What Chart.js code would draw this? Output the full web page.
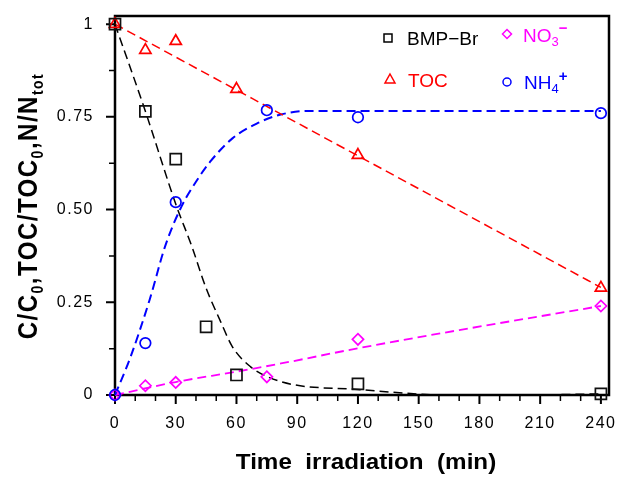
<!DOCTYPE html>
<html>
<head>
<meta charset="utf-8">
<title>BMP-Br photodegradation</title>
<script src="https://cdn.jsdelivr.net/npm/chart.js@4.4.1/dist/chart.umd.min.js"></script>
<style>
  html, body { margin: 0; padding: 0; background: #fff; }
  #box { width: 632px; height: 478px; position: relative; }
</style>
</head>
<body>
<div id="box"><canvas id="chart"></canvas></div>
<script>
const bmpTimes = [0, 15, 30, 45, 60, 120, 240];
const bmpValues = [1.0, 0.765, 0.636, 0.184, 0.054, 0.030, 0.003];
const tocTimes = [0, 15, 30, 60, 120, 240];
const tocValues = [1.0, 0.93, 0.954, 0.825, 0.647, 0.289];
const nh4Times = [0, 15, 30, 75, 120, 240];
const nh4Values = [0, 0.14, 0.52, 0.768, 0.749, 0.76];
const no3Times = [0, 15, 30, 75, 120, 240];
const no3Values = [0, 0.025, 0.034, 0.049, 0.15, 0.24];

// fitted curves
const bmpFitTimes = [0, 15, 30, 38, 45, 52, 58, 67, 75, 88, 120, 146, 160, 200, 240];
const bmpFitValues = [1.0, 0.765, 0.515, 0.40, 0.288, 0.20, 0.13, 0.076, 0.05, 0.028, 0.015, 0.004, 0.0, 0.0, 0.003];
const tocFitTimes = [0, 240];
const tocFitValues = [1.0, 0.29];
const nh4FitTimes = [0, 7.5, 17, 25, 33, 40, 47, 58, 70, 81, 95, 120, 180, 240];
const nh4FitValues = [0, 0.10, 0.255, 0.405, 0.51, 0.575, 0.629, 0.692, 0.732, 0.755, 0.766, 0.766, 0.766, 0.766];
const no3FitTimes = [0, 30, 60, 82, 120, 170, 240];
const no3FitValues = [0, 0.035, 0.063, 0.085, 0.126, 0.175, 0.24];

// axes
const xTicks = [0, 30, 60, 90, 120, 150, 180, 210, 240];
const xMinorTicks = [10, 20, 40, 50, 70, 80, 100, 110, 130, 140, 160, 170, 190, 200, 220, 230];
const yTicks = [0, 0.25, 0.5, 0.75, 1];
const yTickLabels = ["0", "0.25", "0.50", "0.75", "1"];
const yMinorTicks = [0.125, 0.375, 0.625, 0.875];

const FONT = '"Liberation Sans", Arial, sans-serif';

const pts = (xs, ys) => xs.map((x, i) => ({ x: x, y: ys[i] }));

function markers(data, style, color, radius) {
  return {
    data: data,
    pointStyle: style,
    pointRadius: radius,
    pointHoverRadius: radius,
    pointBorderColor: color,
    pointBackgroundColor: "rgba(0,0,0,0)",
    pointBorderWidth: 1.7,
    showLine: false,
    clip: false,
  };
}

function fitLine(data, color, width) {
  return {
    data: data,
    showLine: true,
    borderColor: color,
    borderWidth: width,
    borderDash: [9, 5],
    pointRadius: 0,
    pointHoverRadius: 0,
    cubicInterpolationMode: "monotone",
    clip: false,
  };
}

// text made of runs: [text, size, baseline shift, weight]
function drawRuns(ctx, runs, x, y, center) {
  let w = 0;
  runs.forEach(r => {
    ctx.font = (r[3] || "normal") + " " + r[1] + "px " + FONT;
    w += ctx.measureText(r[0]).width;
  });
  let cx = center ? x - w / 2 : x;
  runs.forEach(r => {
    ctx.font = (r[3] || "normal") + " " + r[1] + "px " + FONT;
    ctx.fillText(r[0], cx, y + r[2]);
    cx += ctx.measureText(r[0]).width;
  });
}

function legendMark(ctx, style, x, y, s) {
  ctx.beginPath();
  if (style === "rect") {
    ctx.rect(x - s, y - s, 2 * s, 2 * s);
  } else if (style === "rectRot") {
    ctx.moveTo(x, y - s); ctx.lineTo(x + s, y); ctx.lineTo(x, y + s); ctx.lineTo(x - s, y); ctx.closePath();
  } else if (style === "triangle") {
    ctx.moveTo(x, y - s); ctx.lineTo(x + s, y + s * 0.8); ctx.lineTo(x - s, y + s * 0.8); ctx.closePath();
  } else {
    ctx.arc(x, y, s, 0, Math.PI * 2);
  }
  ctx.stroke();
}

const frame = {
  id: "frame",
  beforeDraw(chart) {
    chart.ctx.letterSpacing = "1.5px";
  },
  beforeDatasetsDraw(chart) {
    const { ctx, chartArea: a, scales } = chart;
    ctx.save();
    ctx.strokeStyle = "#000";
    ctx.lineWidth = 2.5;
    ctx.strokeRect(a.left, a.top, a.right - a.left, a.bottom - a.top);
    ctx.lineWidth = 2;
    ctx.beginPath();
    xTicks.forEach(v => {
      const px = scales.x.getPixelForValue(v);
      ctx.moveTo(px, a.bottom); ctx.lineTo(px, a.bottom + 9);
    });
    yTicks.forEach(v => {
      const py = scales.y.getPixelForValue(v);
      ctx.moveTo(a.left, py); ctx.lineTo(a.left - 9, py);
    });
    ctx.stroke();
    ctx.lineWidth = 1.5;
    ctx.beginPath();
    xMinorTicks.forEach(v => {
      const px = scales.x.getPixelForValue(v);
      ctx.moveTo(px, a.bottom); ctx.lineTo(px, a.bottom + 6);
    });
    yMinorTicks.forEach(v => {
      const py = scales.y.getPixelForValue(v);
      ctx.moveTo(a.left, py); ctx.lineTo(a.left - 6, py);
    });
    ctx.stroke();
    ctx.restore();
  },
  afterDraw(chart) {
    const ctx = chart.ctx;
    ctx.save();
    ctx.textBaseline = "alphabetic";
    ctx.fillStyle = "#000";

    // x title
    ctx.letterSpacing = "0px";
    ctx.save();
    ctx.translate(366, 469);
    ctx.scale(1.1, 1);
    drawRuns(ctx, [["Time  irradiation  (min)", 22, 0, "bold"]], 0, 0, true);
    ctx.restore();

    // y title
    ctx.save();
    ctx.translate(37, 206);
    ctx.rotate(-Math.PI / 2);
    ctx.scale(1, 1.15);
    ctx.letterSpacing = "1.5px";
    drawRuns(ctx, [
      ["C/C", 24, 0, "bold"], ["0", 14, 5, "bold"],
      [",TOC/TOC", 24, 0, "bold"], ["0", 14, 5, "bold"],
      [",N/N", 24, 0, "bold"], ["tot", 14, 5, "bold"],
    ], 0, 0, true);
    ctx.restore();

    // legend
    ctx.letterSpacing = "0px";
    ctx.lineWidth = 1.5;
    ctx.strokeStyle = "#000";
    legendMark(ctx, "rect", 388, 38, 4);
    ctx.fillStyle = "#000";
    drawRuns(ctx, [["BMP\u2212Br", 19, 0]], 407, 45);

    ctx.strokeStyle = "#ff0000";
    legendMark(ctx, "triangle", 390, 79, 5);
    ctx.fillStyle = "#ff0000";
    drawRuns(ctx, [["TOC", 19, 0]], 408, 86.5);

    ctx.strokeStyle = "#ff00ff";
    legendMark(ctx, "rectRot", 507, 34, 4.5);
    ctx.fillStyle = "#ff00ff";
    drawRuns(ctx, [["NO", 19, 0], ["3", 13, 4], ["\u2212", 15, -9, "bold"]], 523, 41.5);

    ctx.strokeStyle = "#0000ff";
    legendMark(ctx, "circle", 507, 82, 4);
    ctx.fillStyle = "#0000ff";
    drawRuns(ctx, [["NH", 19, 0], ["4", 13, 4], ["+", 15, -8, "bold"]], 524, 89);

    ctx.restore();
  },
};

new Chart(document.getElementById("chart"), {
  type: "scatter",
  data: {
    datasets: [
      markers(pts(bmpTimes, bmpValues), "rect", "#111", 7.8),
      markers(pts(tocTimes, tocValues), "triangle", "#ff0000", 6.5),
      markers(pts(nh4Times, nh4Values), "circle", "#0000ff", 5.3),
      markers(pts(no3Times, no3Values), "rectRot", "#ff00ff", 5.6),
      fitLine(pts(bmpFitTimes, bmpFitValues), "#000", 1.5),
      fitLine(pts(tocFitTimes, tocFitValues), "#ff0000", 1.5),
      fitLine(pts(nh4FitTimes, nh4FitValues), "#0000ff", 2),
      fitLine(pts(no3FitTimes, no3FitValues), "#ff00ff", 1.8),
    ],
  },
  options: {
    responsive: true,
    maintainAspectRatio: false,
    animation: false,
    devicePixelRatio: 1,
    layout: { autoPadding: false, padding: { top: 16, right: 23, left: 0, bottom: 0 } },
    plugins: { legend: { display: false }, tooltip: { enabled: false } },
    scales: {
      x: {
        type: "linear",
        min: 0,
        max: 244,
        afterBuildTicks: s => { s.ticks = xTicks.map(v => ({ value: v })); },
        afterFit: s => { s.height = 83; s.paddingLeft = 0; s.paddingRight = 0; },
        grid: { display: false, drawTicks: false },
        border: { display: false },
        ticks: { padding: 19, color: "#000", font: { family: FONT, size: 16 }, maxRotation: 0, autoSkip: false, callback: v => String(v) },
      },
      y: {
        type: "linear",
        min: 0,
        max: 1.022,
        afterBuildTicks: s => { s.ticks = yTicks.map(v => ({ value: v })); },
        afterFit: s => { s.width = 115; s.paddingTop = 0; s.paddingBottom = 0; },
        grid: { display: false, drawTicks: false },
        border: { display: false },
        ticks: { padding: 21, color: "#000", font: { family: FONT, size: 16 }, autoSkip: false, callback: (v, i) => yTickLabels[i] },
      },
    },
  },
  plugins: [frame],
});
</script>
</body>
</html>
